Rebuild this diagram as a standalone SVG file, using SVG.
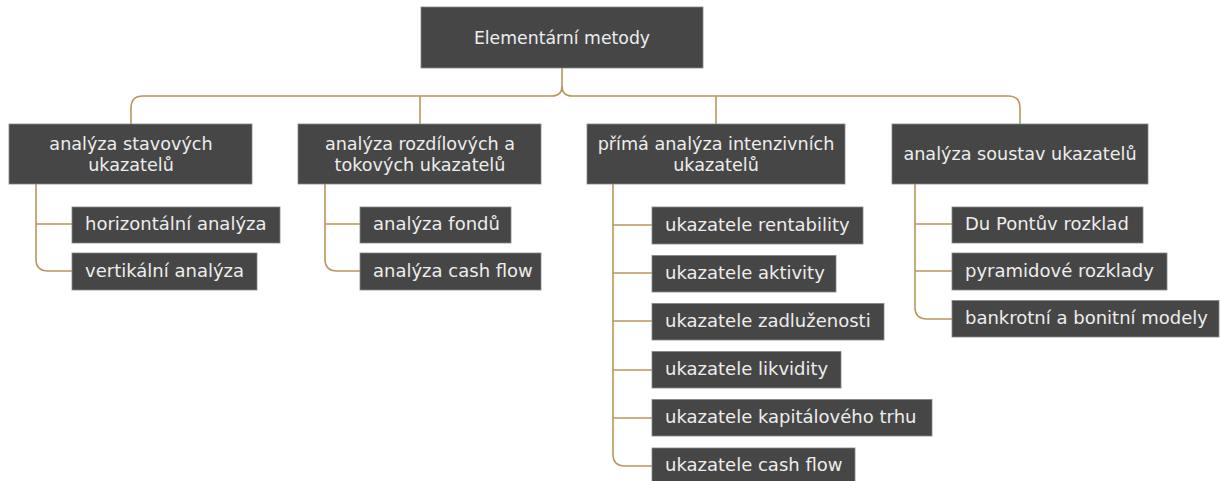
<svg xmlns="http://www.w3.org/2000/svg" width="1220" height="481" viewBox="0 0 1220 481">
  <style>
    .box { fill: #474646; stroke: #858585; stroke-width: 0.8; }
    .lbl { font-family: "DejaVu Sans", "Liberation Sans", sans-serif; font-size: 18px; fill: #ededed; }
    .head { font-size: 17.6px; }
    .top { font-size: 17.3px; }
    .mid { text-anchor: middle; }
    .link { fill: none; stroke: #b8965c; stroke-width: 1.6; }
  </style>
  <rect width="1220" height="481" fill="#ffffff"/>

  <!-- connectors -->
  <g id="connectors" class="link">
    <path d="M562,68 V86 Q562,96 552,96 H143 Q131,96 131,108 V124"/>
    <path d="M562,86 Q562,96 572,96 H1008 Q1020,96 1020,108 V124"/>
    <path d="M420,96 V124"/>
    <path d="M716,96 V124"/>
    <!-- branch 1 -->
    <path d="M36,184 V259 Q36,271 48,271 H72"/>
    <path d="M36,224 H72"/>
    <!-- branch 2 -->
    <path d="M325,184 V259 Q325,271 337,271 H360"/>
    <path d="M325,224 H360"/>
    <!-- branch 3 -->
    <path d="M613,184 V454 Q613,466 625,466 H652"/>
    <path d="M613,225 H652"/>
    <path d="M613,273 H652"/>
    <path d="M613,321 H652"/>
    <path d="M613,370 H652"/>
    <path d="M613,418 H652"/>
    <!-- branch 4 -->
    <path d="M915,184 V307 Q915,319 927,319 H952"/>
    <path d="M915,224 H952"/>
    <path d="M915,271 H952"/>
  </g>

  <!-- root -->
  <g id="root">
    <rect class="box" x="421" y="7" width="282" height="61"/>
    <text class="lbl top mid" x="562" y="43.5">Elementární metody</text>
  </g>

  <!-- level 1 -->
  <g id="stavove">
    <rect class="box" x="9" y="124" width="243" height="60"/>
    <text class="lbl head mid" x="131" y="150">analýza stavových</text>
    <text class="lbl head mid" x="131" y="171">ukazatelů</text>
  </g>
  <g id="rozdilove">
    <rect class="box" x="298" y="124" width="243" height="60"/>
    <text class="lbl head mid" x="420" y="150">analýza rozdílových a</text>
    <text class="lbl head mid" x="420" y="171">tokových ukazatelů</text>
  </g>
  <g id="intenzivni">
    <rect class="box" x="587" y="124" width="258" height="60"/>
    <text class="lbl head mid" x="716" y="150">přímá analýza intenzivních</text>
    <text class="lbl head mid" x="716" y="171">ukazatelů</text>
  </g>
  <g id="soustavy">
    <rect class="box" x="892" y="124" width="256" height="60"/>
    <text class="lbl head mid" x="1020" y="160">analýza soustav ukazatelů</text>
  </g>

  <!-- branch 1 leaves -->
  <g id="horizontalni">
    <rect class="box" x="72" y="207" width="208" height="36"/>
    <text class="lbl" x="85" y="230">horizontální analýza</text>
  </g>
  <g id="vertikalni">
    <rect class="box" x="72" y="253" width="185" height="37"/>
    <text class="lbl" x="85" y="276.5">vertikální analýza</text>
  </g>

  <!-- branch 2 leaves -->
  <g id="fondy">
    <rect class="box" x="360" y="207" width="151" height="36"/>
    <text class="lbl" x="373" y="230">analýza fondů</text>
  </g>
  <g id="cashflow-analyza">
    <rect class="box" x="360" y="253" width="181" height="37"/>
    <text class="lbl" x="373" y="276.5">analýza cash flow</text>
  </g>

  <!-- branch 3 leaves -->
  <g id="rentabilita">
    <rect class="box" x="652" y="207" width="211" height="37"/>
    <text class="lbl" x="665" y="230.5">ukazatele rentability</text>
  </g>
  <g id="aktivita">
    <rect class="box" x="652" y="255.5" width="184" height="36.5"/>
    <text class="lbl" x="665" y="278.5">ukazatele aktivity</text>
  </g>
  <g id="zadluzenost">
    <rect class="box" x="652" y="303.5" width="232" height="36.5"/>
    <text class="lbl" x="665" y="326.5">ukazatele zadluženosti</text>
  </g>
  <g id="likvidita">
    <rect class="box" x="652" y="351.5" width="189" height="36.5"/>
    <text class="lbl" x="665" y="374.5">ukazatele likvidity</text>
  </g>
  <g id="kapitalovy-trh">
    <rect class="box" x="652" y="399.5" width="280" height="36.5"/>
    <text class="lbl" x="665" y="422.5">ukazatele kapitálového trhu</text>
  </g>
  <g id="cashflow-ukazatele">
    <rect class="box" x="652" y="448" width="203" height="37"/>
    <text class="lbl" x="665" y="471">ukazatele cash flow</text>
  </g>

  <!-- branch 4 leaves -->
  <g id="dupont">
    <rect class="box" x="952" y="207" width="191" height="36"/>
    <text class="lbl" x="965" y="230">Du Pontův rozklad</text>
  </g>
  <g id="pyramidove">
    <rect class="box" x="952" y="253" width="215" height="37"/>
    <text class="lbl" x="965" y="276.5">pyramidové rozklady</text>
  </g>
  <g id="bankrotni">
    <rect class="box" x="952" y="300.5" width="267" height="36.5"/>
    <text class="lbl" x="965" y="323.5">bankrotní a bonitní modely</text>
  </g>
</svg>
